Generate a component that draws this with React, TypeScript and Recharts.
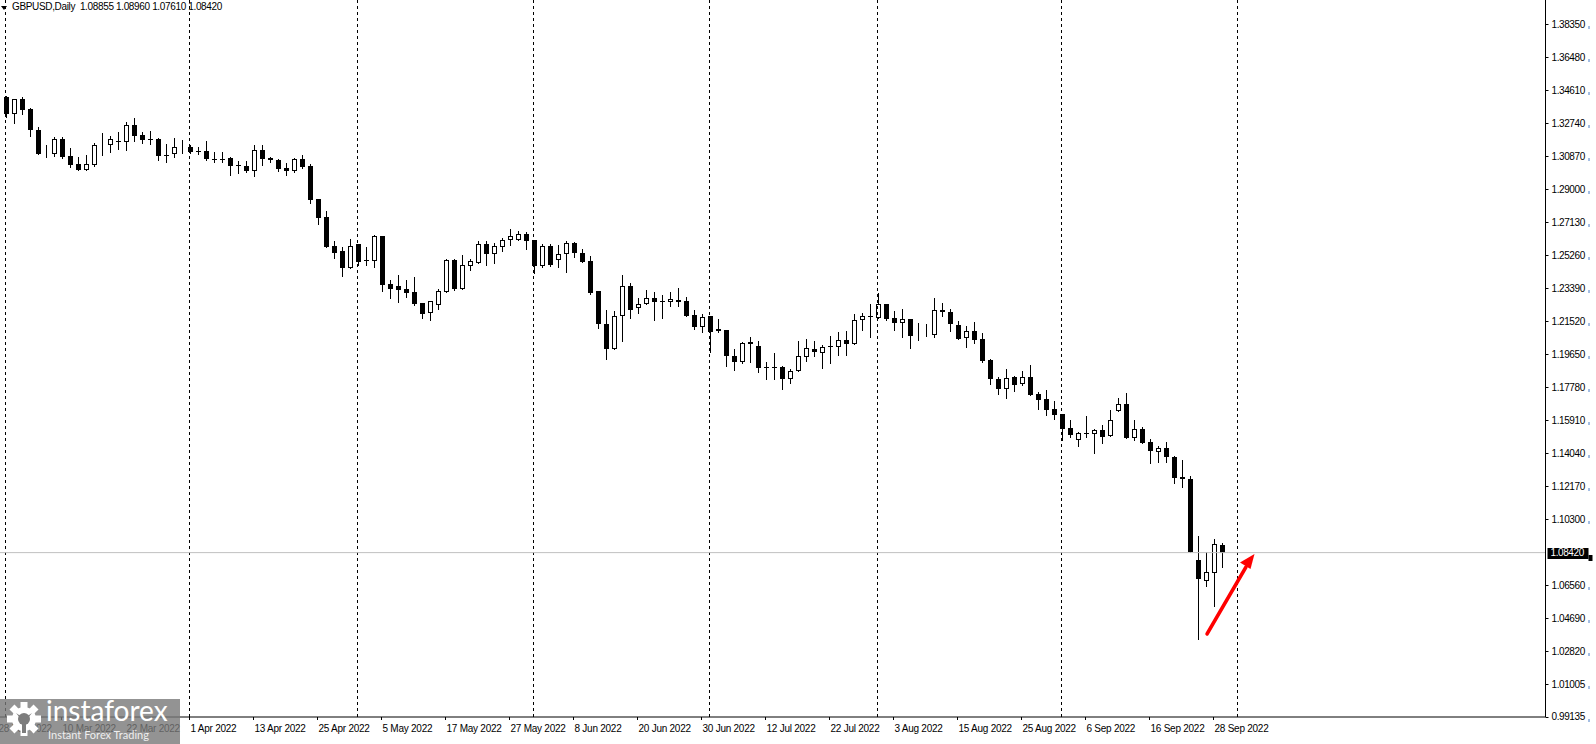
import React from 'react';
import { ComposedChart, Bar, XAxis, YAxis, ReferenceLine } from 'recharts';

// GBPUSD daily candles, 1 Mar 2022 .. 29 Sep 2022
const opens = [
  1.3422, 1.3325, 1.341, 1.3355, 1.3236, 1.3104, 1.31, 1.3184, 1.3087, 1.3042,
  1.3008, 1.3038, 1.315, 1.315, 1.3173, 1.3167, 1.3265, 1.3208, 1.3187, 1.3186,
  1.3096, 1.3099, 1.3136, 1.3139, 1.3116, 1.3117, 1.3072, 1.3074, 1.3078, 1.3036,
  1.3031, 1.3004, 1.3121, 1.3078, 1.3065, 1.3021, 1.3002, 1.3072, 1.3032, 1.2846,
  1.2742, 1.2579, 1.2551, 1.2456, 1.2591, 1.2498, 1.2496, 1.2636, 1.2364, 1.2353,
  1.2336, 1.2319, 1.2256, 1.2201, 1.2243, 1.232, 1.25, 1.2337, 1.2468, 1.2481,
  1.2589, 1.2536, 1.2575, 1.2611, 1.2616, 1.265, 1.2611, 1.2468, 1.2579, 1.2498,
  1.2532, 1.2595, 1.254, 1.2494, 1.2324, 1.2137, 1.1997, 1.2181, 1.2351, 1.2226,
  1.2249, 1.2283, 1.2268, 1.226, 1.2273, 1.2268, 1.2188, 1.2122, 1.2181, 1.2109,
  1.2103, 1.1956, 1.1924, 1.2034, 1.2013, 1.1894, 1.1894, 1.1894, 1.1824, 1.1869,
  1.1952, 1.1996, 1.1971, 1.2013, 1.2005, 1.2047, 1.2026, 1.216, 1.2181, 1.2173,
  1.2249, 1.217, 1.2142, 1.2166, 1.2075, 1.2075, 1.2075, 1.2217, 1.2205, 1.2132,
  1.2056, 1.2098, 1.2052, 1.1933, 1.1826, 1.1767, 1.1837, 1.1796, 1.1835, 1.1741,
  1.1712, 1.1656, 1.1625, 1.1546, 1.1478, 1.1522, 1.1516, 1.1535, 1.1501, 1.1643,
  1.1682, 1.1493, 1.1541, 1.1466, 1.1414, 1.1433, 1.1384, 1.1269, 1.1259, 1.08,
  1.0683, 1.0728, 1.08855,
];
const highs = [
  1.3429, 1.3412, 1.3422, 1.3363, 1.3253, 1.315, 1.3199, 1.3199, 1.3133, 1.3082,
  1.3093, 1.3161, 1.3219, 1.3203, 1.3223, 1.3282, 1.3304, 1.3223, 1.3231, 1.319,
  1.3155, 1.319, 1.3178, 1.3152, 1.3142, 1.3174, 1.3113, 1.311, 1.3085, 1.3061,
  1.3061, 1.315, 1.315, 1.3082, 1.3072, 1.3048, 1.3076, 1.3095, 1.3044, 1.2846,
  1.2778, 1.2608, 1.2572, 1.2619, 1.2591, 1.2572, 1.2642, 1.2636, 1.2385, 1.2415,
  1.2385, 1.2405, 1.2256, 1.2266, 1.2337, 1.2506, 1.2506, 1.2528, 1.2506, 1.2608,
  1.2608, 1.2598, 1.2626, 1.2675, 1.2664, 1.2657, 1.2611, 1.2589, 1.2589, 1.2585,
  1.2608, 1.2601, 1.2562, 1.2523, 1.2324, 1.2217, 1.2211, 1.2415, 1.2368, 1.2283,
  1.233, 1.2317, 1.2302, 1.232, 1.234, 1.2292, 1.2217, 1.2194, 1.2181, 1.2166,
  1.2103, 1.1996, 1.2037, 1.2062, 1.2041, 1.1922, 1.1971, 1.1899, 1.1882, 1.2041,
  1.2052, 1.2041, 1.2018, 1.2071, 1.2094, 1.2099, 1.2194, 1.2198, 1.2249, 1.2311,
  1.2249, 1.2211, 1.2222, 1.2166, 1.2145, 1.2136, 1.2287, 1.2255, 1.2221, 1.2154,
  1.2124, 1.2149, 1.2085, 1.194, 1.1839, 1.1881, 1.1843, 1.1871, 1.1905, 1.1752,
  1.1763, 1.1701, 1.1625, 1.1593, 1.1527, 1.1616, 1.1542, 1.1563, 1.165, 1.172,
  1.1745, 1.1593, 1.1554, 1.1485, 1.1448, 1.1467, 1.1389, 1.1367, 1.1276, 1.0936,
  1.0847, 1.0919, 1.0896,
];
const lows = [
  1.3308, 1.3274, 1.3325, 1.3204, 1.3102, 1.3085, 1.3089, 1.3079, 1.3025, 1.3008,
  1.3008, 1.3034, 1.3093, 1.3112, 1.3129, 1.3123, 1.3176, 1.3161, 1.3157, 1.3066,
  1.3057, 1.3085, 1.3108, 1.3108, 1.31, 1.3066, 1.3053, 1.3057, 1.2983, 1.2994,
  1.2998, 1.2977, 1.3036, 1.3055, 1.3006, 1.2983, 1.2998, 1.3023, 1.2825, 1.2702,
  1.2575, 1.251, 1.2411, 1.2456, 1.2472, 1.2472, 1.2462, 1.2326, 1.2283, 1.2264,
  1.2292, 1.2243, 1.217, 1.2158, 1.2221, 1.232, 1.233, 1.2337, 1.2445, 1.2481,
  1.2472, 1.2485, 1.2551, 1.2585, 1.2613, 1.2564, 1.2427, 1.2459, 1.2468, 1.2461,
  1.2434, 1.2515, 1.249, 1.2306, 1.2113, 1.1937, 1.1997, 1.2043, 1.2173, 1.2202,
  1.2249, 1.216, 1.2173, 1.2241, 1.2241, 1.2184, 1.2107, 1.2094, 1.198, 1.209,
  1.1899, 1.1877, 1.1915, 1.1924, 1.1867, 1.1824, 1.1824, 1.1767, 1.1805, 1.1869,
  1.1929, 1.1958, 1.189, 1.1915, 1.1962, 1.1962, 1.2026, 1.2103, 1.2065, 1.217,
  1.216, 1.2103, 1.2065, 1.2003, 1.2047, 1.2069, 1.2065, 1.2184, 1.2099, 1.2052,
  1.2009, 1.2031, 1.1924, 1.1796, 1.1743, 1.172, 1.1759, 1.179, 1.1737, 1.1654,
  1.1622, 1.1601, 1.148, 1.1499, 1.1448, 1.1499, 1.1408, 1.1463, 1.1501, 1.1643,
  1.1493, 1.148, 1.1464, 1.1351, 1.1357, 1.1357, 1.1238, 1.1216, 1.0848, 1.035,
  1.0654, 1.054, 1.0761,
];
const closes = [
  1.3325, 1.341, 1.3348, 1.3236, 1.3102, 1.3106, 1.3184, 1.3085, 1.3038, 1.3008,
  1.3042, 1.3151, 1.3151, 1.3184, 1.3167, 1.3265, 1.3204, 1.318, 1.3184, 1.3089,
  1.3093, 1.3139, 1.3139, 1.3113, 1.3113, 1.3072, 1.307, 1.307, 1.3034, 1.3034,
  1.3004, 1.3121, 1.3072, 1.3065, 1.3016, 1.3002, 1.3072, 1.3029, 1.284, 1.274,
  1.2575, 1.2541, 1.2456, 1.2578, 1.249, 1.2493, 1.2636, 1.2358, 1.2337, 1.2332,
  1.2314, 1.2251, 1.2196, 1.2266, 1.2323, 1.25, 1.2337, 1.2472, 1.2493, 1.2589,
  1.2536, 1.2578, 1.2613, 1.2634, 1.265, 1.2607, 1.2468, 1.2579, 1.2472, 1.2534,
  1.2595, 1.2538, 1.249, 1.2311, 1.2136, 1.1997, 1.2181, 1.2351, 1.2218, 1.2249,
  1.2283, 1.2264, 1.2268, 1.2277, 1.2264, 1.2184, 1.2122, 1.2179, 1.2094, 1.2098,
  1.1956, 1.1924, 1.2028, 1.2026, 1.189, 1.1892, 1.1892, 1.1824, 1.1871, 1.1956,
  1.1999, 1.1977, 1.2005, 1.2005, 1.2047, 1.2026, 1.216, 1.2181, 1.218, 1.2249,
  1.2166, 1.2142, 1.2166, 1.2071, 1.2078, 1.2078, 1.2217, 1.2204, 1.2136, 1.2052,
  1.2096, 1.2047, 1.1928, 1.1826, 1.1767, 1.1833, 1.1792, 1.1835, 1.1737, 1.1708,
  1.1652, 1.1623, 1.1544, 1.1508, 1.1518, 1.1518, 1.1535, 1.1499, 1.1593, 1.1682,
  1.1493, 1.1541, 1.1464, 1.1419, 1.1433, 1.1382, 1.1267, 1.1257, 1.0848, 1.0691,
  1.073, 1.0889, 1.0842,
];

const lastPrice = 1.0842;

// right-hand price scale
const yTicks = [
  1.3835, 1.3648, 1.3461, 1.3274, 1.3087, 1.29, 1.2713, 1.2526, 1.2339, 1.2152, 1.1965,
  1.1778, 1.1591, 1.1404, 1.1217, 1.103, 1.0842, 1.0656, 1.0469, 1.0282, 1.0095, 0.99135,
];
const yTickLabels = [
  '1.38350', '1.36480', '1.34610', '1.32740', '1.30870', '1.29000', '1.27130', '1.25260',
  '1.23390', '1.21520', '1.19650', '1.17780', '1.15910', '1.14040', '1.12170', '1.10300',
  '1.08420', '1.06560', '1.04690', '1.02820', '1.01005', '0.99135',
];

const xTicks = [
  '28 Feb 2022', '10 Mar 2022', '22 Mar 2022', '1 Apr 2022', '13 Apr 2022', '25 Apr 2022',
  '5 May 2022', '17 May 2022', '27 May 2022', '8 Jun 2022', '20 Jun 2022', '30 Jun 2022',
  '12 Jul 2022', '22 Jul 2022', '3 Aug 2022', '15 Aug 2022', '25 Aug 2022', '6 Sep 2022',
  '16 Sep 2022', '28 Sep 2022',
];

// monthly period separators
const monthStarts = [
  '1 Mar 2022', '1 Apr 2022', '2 May 2022', '1 Jun 2022', '1 Jul 2022', '1 Aug 2022',
  '1 Sep 2022', '3 Oct 2022',
];

const MONTHS = ['Jan', 'Feb', 'Mar', 'Apr', 'May', 'Jun', 'Jul', 'Aug', 'Sep', 'Oct', 'Nov', 'Dec'];

// weekday slots from 28 Feb (one empty slot before the first candle, empty ones after the last)
const slotCount = 194;
const dates: string[] = [];
for (let t = Date.UTC(2022, 1, 28); dates.length < slotCount; t += 86400000) {
  const d = new Date(t);
  const wd = d.getUTCDay();
  if (wd === 0 || wd === 6) continue;
  dates.push(`${d.getUTCDate()} ${MONTHS[d.getUTCMonth()]} ${d.getUTCFullYear()}`);
}

const data = dates.map((date, k) => {
  const i = k - 1;
  if (i < 0 || i >= opens.length) return { date };
  return { date, open: opens[i], high: highs[i], low: lows[i], close: closes[i] };
});

const FONT = "'Liberation Sans', Arial, sans-serif";

const Candle = (props: any) => {
  const { x, y, width, height, payload } = props;
  if (!payload || payload.high == null) return null;
  const { open, high, low, close } = payload;
  const top = height < 0 ? y + height : y;
  const h = Math.abs(height);
  const cx = Math.floor(x + width / 2) + 0.5;
  const k = high > low ? h / (high - low) : 0;
  const yo = top + (high - open) * k;
  const yc = top + (high - close) * k;
  const bTop = Math.round(Math.min(yo, yc));
  const bBot = Math.round(Math.max(yo, yc));
  const bull = close > open;
  return (
    <g>
      <line x1={cx} x2={cx} y1={Math.round(top)} y2={Math.round(top + h) + 1} stroke="#000" strokeWidth={1} />
      {bull ? (
        <rect x={cx - 2} y={bTop + 0.5} width={4} height={Math.max(bBot - bTop - 1, 0)} fill="#fff" stroke="#000" strokeWidth={1} />
      ) : (
        <rect x={cx - 2.5} y={bTop} width={5} height={Math.max(bBot - bTop, 1)} fill="#000" />
      )}
    </g>
  );
};

const XTick = (props: any) => {
  const { x, y, payload } = props;
  const px = Math.floor(x) + 0.5;
  return (
    <g>
      <line x1={px} x2={px} y1={y} y2={y + 3} stroke="#000" />
      <text x={x + 1} y={y + 14.5} fontSize={10} fontFamily={FONT} letterSpacing={-0.25} fill="#000" textAnchor="start">
        {payload.value}
      </text>
    </g>
  );
};

const YTick = (props: any) => {
  const { x, y, payload } = props;
  const idx = yTicks.indexOf(payload.value);
  const label = idx >= 0 ? yTickLabels[idx] : String(payload.value);
  const py = Math.round(y) + 0.5;
  if (payload.value === lastPrice) {
    return (
      <g>
        <rect x={x + 2} y={Math.round(y) - 5} width={41} height={11} fill="#000" />
        <rect x={x + 43} y={Math.round(y) + 2} width={4} height={6} fill="#000" />
        <text x={x + 5} y={y + 3.6} fontSize={10} fontFamily={FONT} letterSpacing={-0.4} fill="#fff">
          {label}
        </text>
      </g>
    );
  }
  return (
    <g>
      <line x1={x} x2={x + 3} y1={py} y2={py} stroke="#000" />
      <text x={x + 6} y={y + 3.6} fontSize={10} fontFamily={FONT} letterSpacing={-0.4} fill="#000">
        {label}
      </text>
      <line x1={x + 43.5} x2={x + 43.5} y1={Math.round(y) + 2} y2={Math.round(y) + 5} stroke="#4a7fc8" />
    </g>
  );
};

const Gear = () => {
  const teeth = [0, 45, 90, 135, 180, 225, 270, 315];
  return (
    <svg width={40} height={36} style={{ position: 'absolute', left: 5, top: 3 }}>
      <g transform="translate(19,17)">
        {teeth.map((a) => (
          <rect key={a} x={-3.5} y={-17} width={7} height={8} fill="#fff" transform={`rotate(${a})`} />
        ))}
        <circle r={12} fill="#fff" />
        <circle r={6} fill="#7d7d7d" />
        <path d="M-2,-2 L-2,14 L2,14 L2,-2 Z M-8,-6 L-4,-1 L-2,-2 Z M8,-6 L4,-1 L2,-2 Z" fill="#7d7d7d" />
      </g>
    </svg>
  );
};

export default function App() {
  return (
    <div style={{ position: 'absolute', left: 0, top: 0, width: 1596, height: 744, overflow: 'hidden', background: '#fff' }}>
      <div style={{ position: 'absolute', left: -7, top: 0 }}>
        <ComposedChart width={1610} height={744} data={data} margin={{ top: 0, right: 0, bottom: 0, left: 0.5 }}>
          <XAxis
            dataKey="date"
            ticks={xTicks}
            interval={0}
            tickSize={0}
            tickMargin={0}
            tickLine={false}
            axisLine={{ stroke: '#000' }}
            tick={<XTick />}
            height={27}
          />
          <YAxis
            orientation="right"
            type="number"
            domain={[0.99107, 1.3973]}
            allowDataOverflow
            ticks={yTicks}
            interval={0}
            tickSize={0}
            tickMargin={0}
            tickLine={false}
            axisLine={{ stroke: '#000' }}
            tick={<YTick />}
            width={57.5}
          />
          {monthStarts.map((d) => (
            <ReferenceLine key={d} x={d} stroke="#000" strokeDasharray="3 3" ifOverflow="visible" />
          ))}
          <ReferenceLine y={lastPrice} stroke="#c0c0c0" />
          <Bar
            dataKey={(d: any) => (d.high != null ? [d.low, d.high] : null)}
            shape={<Candle />}
            barSize={5}
            isAnimationActive={false}
          />
        </ComposedChart>
      </div>

      {/* header */}
      <svg width={8} height={12} style={{ position: 'absolute', left: 0, top: 2 }}>
        <path d="M1,4 L7,4 L4,8 Z" fill="#000" />
      </svg>
      <div
        style={{
          position: 'absolute', left: 12, top: 1, fontFamily: FONT, fontSize: 10,
          letterSpacing: -0.35, color: '#000', whiteSpace: 'pre', lineHeight: '12px',
        }}
      >
        {'GBPUSD,Daily  1.08855 1.08960 1.07610 1.08420'}
      </div>

      {/* hand-drawn arrow */}
      <svg width={1596} height={744} style={{ position: 'absolute', left: 0, top: 0, pointerEvents: 'none' }}>
        <line x1={1207} y1={634} x2={1246} y2={567} stroke="#ff0000" strokeWidth={3.5} strokeLinecap="round" />
        <polygon points="1254.5,554 1240,562.5 1250.5,569" fill="#ff0000" />
      </svg>

      {/* watermark */}
      <div
        style={{
          position: 'absolute', left: 0, top: 699, width: 180, height: 45,
          background: 'rgba(120,120,120,0.8)',
        }}
      >
        <Gear />
        <div style={{ position: 'absolute', left: 46, top: -6, fontFamily: 'Lato, sans-serif', fontSize: 28, color: '#fff', lineHeight: '34px' }}>
          instaforex
        </div>
        <div style={{ position: 'absolute', left: 48, top: 29, fontFamily: 'Lato, sans-serif', fontSize: 11, color: '#eee', lineHeight: '13px' }}>
          Instant Forex Trading
        </div>
      </div>
    </div>
  );
}
